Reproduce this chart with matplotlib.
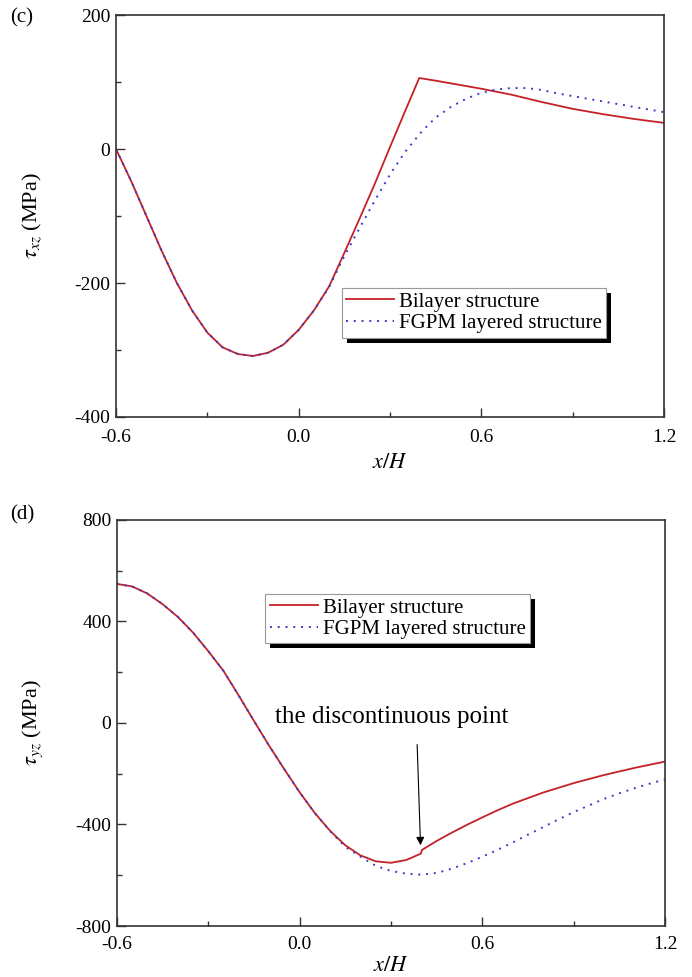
import numpy as np
import matplotlib
matplotlib.use('Agg')
import matplotlib.pyplot as plt
from matplotlib.patches import Rectangle
from matplotlib.ticker import MultipleLocator

plt.rcParams['font.family'] = ['Liberation Serif', 'DejaVu Serif']
plt.rcParams['mathtext.fontset'] = 'stix'
plt.rcParams['axes.unicode_minus'] = False
plt.rcParams['font.size'] = 13

# (c) tau_xz
xc_bi = [-0.6, -0.55, -0.5, -0.45, -0.4, -0.35, -0.3, -0.25, -0.2, -0.15, -0.1, -0.05, 0.0, 0.05,
         0.1, 0.15, 0.2, 0.25, 0.3, 0.35, 0.396, 0.45, 0.5, 0.6, 0.7, 0.8, 0.9, 1.0, 1.1, 1.2]
yc_bi = [0, -48, -100, -152, -200, -241, -274, -296, -306, -309, -304, -292, -270, -241,
         -205, -155, -104, -52, 3, 57, 106, 102, 98, 90, 81, 70, 60, 52, 45, 39]
xc_fg = [-0.6, -0.55, -0.5, -0.45, -0.4, -0.35, -0.3, -0.25, -0.2, -0.15, -0.1, -0.05, 0.0, 0.05,
         0.1, 0.15, 0.2, 0.25, 0.3, 0.35, 0.4, 0.45, 0.5, 0.55, 0.6, 0.65, 0.7, 0.75, 0.8, 0.85,
         0.9, 0.95, 1.0, 1.05, 1.1, 1.15, 1.2]
yc_fg = [0, -48, -100, -152, -200, -241, -274, -296, -306, -309, -304, -292, -270, -241,
         -206, -160, -118, -77, -38, -4, 24, 47, 63, 75, 84, 89, 91, 91, 88, 83,
         79, 75, 71, 67, 63, 59, 55]

# (d) tau_yz
xd_bi = [-0.6, -0.55, -0.5, -0.45, -0.4, -0.35, -0.3, -0.25, -0.2, -0.15, -0.1, -0.05, 0.0, 0.05,
         0.1, 0.15, 0.2, 0.25, 0.3, 0.35, 0.398, 0.402, 0.45, 0.5, 0.55, 0.6, 0.65, 0.7, 0.8,
         0.9, 1.0, 1.1, 1.2]
yd_bi = [548, 538, 510, 468, 418, 356, 283, 205, 108, 8, -90, -183, -273, -355,
         -425, -482, -522, -545, -551, -540, -515, -500, -465, -432, -401, -372, -344, -318, -274,
         -237, -205, -177, -152]
xd_fg = [-0.6, -0.55, -0.5, -0.45, -0.4, -0.35, -0.3, -0.25, -0.2, -0.15, -0.1, -0.05, 0.0, 0.05,
         0.1, 0.15, 0.2, 0.25, 0.3, 0.35, 0.4, 0.45, 0.5, 0.55, 0.6, 0.65, 0.7, 0.75, 0.8, 0.85,
         0.9, 0.95, 1.0, 1.05, 1.1, 1.15, 1.2]
yd_fg = [548, 538, 510, 468, 418, 356, 283, 205, 108, 8, -90, -183, -273, -355,
         -426, -488, -527, -563, -583, -594, -598, -591, -574, -552, -527, -500, -471, -440, -410, -380,
         -351, -325, -299, -277, -257, -239, -222]

red = '#c42127'
blue = '#3a3acc'

fig = plt.figure(figsize=(6.92, 9.77), dpi=100)
ax1 = fig.add_axes([0.1676, 0.5732, 0.792, 0.4114])
ax2 = fig.add_axes([0.169, 0.0522, 0.792, 0.4156])


def style(ax, ylo, yhi, ymaj, ymin, xpad, xlpad):
    ax.set_xlim(-0.6, 1.2)
    ax.set_ylim(ylo, yhi)
    ax.xaxis.set_major_locator(MultipleLocator(0.6))
    ax.xaxis.set_minor_locator(MultipleLocator(0.3))
    ax.yaxis.set_major_locator(MultipleLocator(ymaj))
    ax.yaxis.set_minor_locator(MultipleLocator(ymin))
    ax.xaxis.set_major_formatter(lambda v, p: '%.1f' % v)
    ax.tick_params(which='both', direction='in', top=False, right=False, width=1.0, color='#333333')
    ax.tick_params(which='major', length=6.5, labelsize=14)
    ax.tick_params(axis='x', which='major', pad=xpad)
    ax.tick_params(axis='y', which='major', pad=4)
    ax.tick_params(which='minor', length=3.5)
    for s in ax.spines.values():
        s.set_linewidth(1.2)
        s.set_color('#333333')
    ax.set_xlabel(r'$x/H$', fontsize=16, labelpad=xlpad)


def shadow_legend(ax, anchor):
    leg = ax.legend(loc='upper left', bbox_to_anchor=anchor, fancybox=False, framealpha=1,
                    edgecolor='#999999', fontsize=15, handlelength=2.3, handletextpad=0.25,
                    borderpad=0.2, labelspacing=0.1, borderaxespad=0)
    leg.get_frame().set_linewidth(0.8)
    fig.canvas.draw()
    bb = leg.get_window_extent().transformed(fig.transFigure.inverted())
    dx, dy = 5 / 692, 5 / 977
    ax.add_patch(Rectangle((bb.x0 + dx, bb.y0 - dy), bb.width, bb.height, transform=fig.transFigure,
                           facecolor='black', edgecolor='none', zorder=4.9, clip_on=False))
    return leg


style(ax1, -400, 200, 200, 100, 8.5, 6)
ax1.plot(xc_bi, yc_bi, color=red, lw=1.3, label='Bilayer structure')
ax1.plot(xc_fg, yc_fg, color=blue, lw=1.4, ls=(0, (1, 3)), label='FGPM layered structure')
ax1.set_ylabel(r'$\tau_{xz}$ (MPa)', fontsize=16, labelpad=22)
shadow_legend(ax1, (0.412, 0.321))

style(ax2, -800, 800, 400, 200, 7, 3)
ax2.plot(xd_bi, yd_bi, color=red, lw=1.3, label='Bilayer structure')
ax2.plot(xd_fg, yd_fg, color=blue, lw=1.4, ls=(0, (1, 3)), label='FGPM layered structure')
ax2.set_ylabel(r'$\tau_{yz}$ (MPa)', fontsize=16, labelpad=22)
ax2.text(0.303, 24, 'the discontinuous point', ha='center', va='center', fontsize=18)
ax2.annotate('', xy=(0.397, -482), xytext=(0.386, -85),
             arrowprops=dict(arrowstyle='-|>', color='black', lw=0.8, mutation_scale=12,
                             shrinkA=0, shrinkB=0))
shadow_legend(ax2, (0.271, 0.818))

fig.text(0.014, 0.992, '(c)', ha='left', va='top', fontsize=15)
fig.text(0.014, 0.483, '(d)', ha='left', va='top', fontsize=15)

fig.savefig('out.png', dpi=100)
